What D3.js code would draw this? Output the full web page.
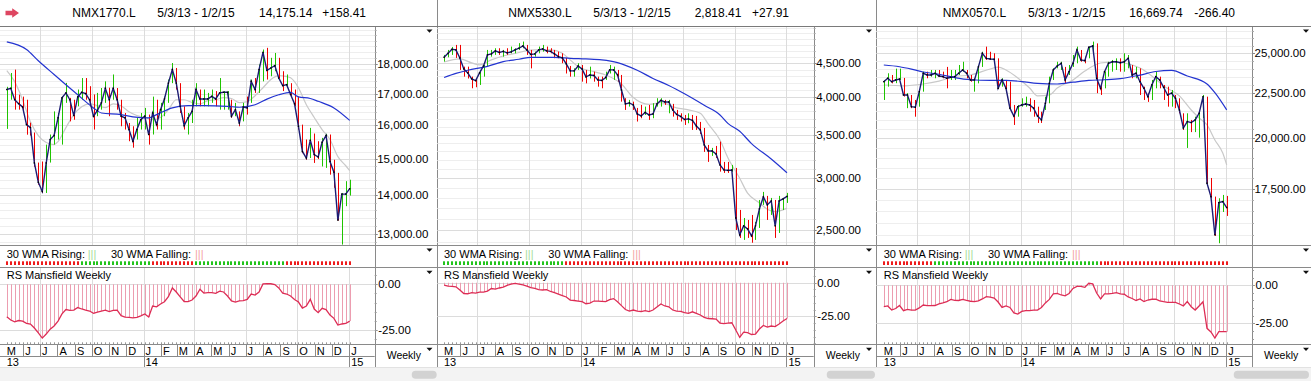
<!DOCTYPE html>
<html><head><meta charset="utf-8">
<script src="https://cdn.jsdelivr.net/npm/d3@7"></script>
<style>
html,body{margin:0;padding:0;background:#fff;overflow:hidden}
svg{display:block}
</style></head><body>
<svg id="c" width="1311" height="381"></svg>
<script>
// ---------- DATA ----------
const WEEK_COUNT = 88; // weekly bars 3 May 2013 .. 2 Jan 2015
const symbols = ["NMX1770.L", "NMX5330.L", "NMX0570.L"];
const dateRange = "5/3/13 - 1/2/15";
const lastValues = ["14,175.14", "2,818.41", "16,669.74"];
const changes = ["+158.41", "+27.91", "-266.40"];
const p1Ticks = [13000, 14000, 15000, 16000, 17000, 18000];
const p2Ticks = [2500, 3000, 3500, 4000, 4500];
const p3Ticks = [17500, 20000, 22500, 25000];
const rsTicks = [0, -25];

const p1Close = [17130,17170,16800,16675,16570,16020,15930,14890,14350,14100,
14890,15570,15690,16230,16860,17020,16800,16300,16890,17040,
17000,16800,16280,16460,16700,17170,16800,17170,16800,16280,
16230,15870,15520,15870,16170,16280,15720,16380,16020,16485,
16825,17340,17795,17340,16590,15990,16230,16430,17130,16825,
16825,16825,16910,16825,17020,17040,17040,16280,16485,16070,
16570,16540,17400,17130,17795,18390,17770,17850,17930,17510,
17260,17290,16970,16670,15970,15220,15030,15550,15130,15060,
15490,15690,14930,14630,13350,14030,14030,14175];
const p1High = [17220,17680,17795,16965,16900,16800,16080,15780,14900,14930,
15420,15720,16430,16380,16910,17350,16860,16800,17130,17510,
17510,17240,16970,17020,17180,17400,17190,17630,17180,16800,
16380,16070,15970,16230,16380,16540,16330,16900,16800,16700,
16900,17460,18020,17850,17340,16590,16380,16800,17340,17130,
17130,17020,17130,17080,17510,17080,17080,16800,16700,16430,
16700,16900,17460,17510,17970,18490,18550,18200,18370,18200,
17740,17630,17340,17130,16900,16020,15570,15920,15750,15520,
15620,15740,15720,14980,14610,14060,14380,14420];
const p1Low = [15890,16800,16485,16485,16420,15715,15690,14780,14285,14060,
14060,14900,15420,15570,15420,16700,16120,16170,16590,16800,
16800,16590,15870,16280,16485,16700,16280,16800,16485,15970,
15870,15520,15330,15570,15870,15870,15420,15720,15870,15870,
16280,16700,17340,17130,16380,15870,15720,16070,16590,16590,
16590,16590,16700,16590,16485,16485,16485,16230,16280,15970,
16120,16330,16700,17020,17020,17400,17460,17570,17740,17510,
17080,17180,16910,16590,15870,15170,14980,15030,14890,15000,
14790,14750,14560,14200,13340,12740,13710,13990];
const p1Ma10 = [[0,17760],[2,17390],[4,16800],[6,16110],[8,15690],[10,15480],[12,15420],[13,15510],[15,15930],[17,16330],[19,16580],[21,16670],[23,16610],[25,16550],[27,16670],[29,16610],[31,16420],[33,16300],[35,16240],[37,16170],[39,16240],[41,16485],[43,16800],[45,16800],[47,16710],[49,16670],[51,16770],[53,16800],[55,16870],[57,16840],[59,16710],[61,16740],[63,16930],[65,17190],[67,17460],[69,17590],[71,17560],[72,17520],[74,17190],[76,16640],[78,16240],[80,15870],[82,15570],[84,15070],[86,14810],[87,14670]];
const p1Ma30 = [[0,18760],[5,18490],[8,18100],[12,17630],[15,17290],[18,16960],[22,16540],[24,16380],[29,16330],[32,16260],[36,16230],[38,16330],[42,16540],[46,16610],[50,16610],[56,16590],[59,16560],[63,16640],[66,16820],[69,16960],[72,17040],[74,16890],[77,16840],[79,16750],[83,16540],[87,16150]];
const p1Rs = [-17.7,-19.5,-20.5,-19.8,-20.1,-21.3,-21.7,-23.9,-26.6,-29.4,
-27.2,-24.5,-22.8,-20.1,-16.2,-13.8,-14.3,-14.1,-12.7,-13.5,
-14.1,-14.6,-15.9,-15.2,-14.6,-14.1,-14.9,-14.3,-14.1,-17.1,
-17.9,-18.1,-18.4,-18.1,-17.3,-16.2,-17.9,-11.9,-12.3,-10.8,
-9.5,-6.8,-2.0,-4.2,-6.9,-9.4,-9.5,-8.6,-6.4,-2.7,
-4.8,-4.6,-4.5,-4.9,-3.7,-4.2,-6.4,-9.1,-9.7,-9.1,
-8.9,-8.3,-5.3,-5.9,-4.2,0.2,0.4,0.3,-0.1,-2.0,
-4.8,-5.3,-6.4,-8.3,-9.7,-13.0,-11.9,-8.2,-13.5,-15.5,
-13.1,-13.8,-16.8,-18.6,-22.3,-21.7,-21.4,-20.1];
const p1Trend = ["RRRRRRRRRR","RRRRRRRRRG","GGGGGGGGGG","GGGGGGGRRR","RRRRRRRRGG",
"GGGGGGGGGG","GGGGGGGGGG","GRRRRRRRRR","RRRRRRRR"].join("");

const p2Close = [4595,4660,4727,4716,4585,4410,4349,4258,4232,4349,
4457,4634,4650,4700,4675,4692,4667,4683,4716,4744,
4782,4716,4642,4650,4716,4733,4700,4692,4650,4605,
4585,4489,4380,4380,4457,4410,4288,4318,4310,4243,
4235,4280,4395,4395,4318,4095,3899,3913,3885,3763,
3737,3783,3750,3763,3899,3947,3926,3926,3817,3757,
3730,3691,3698,3678,3607,3557,3374,3303,3303,3268,
3144,3089,3084,3089,2608,2457,2536,2509,2448,2536,
2693,2809,2731,2769,2536,2769,2789,2814];
const p2High = [4634,4716,4766,4800,4800,4446,4446,4292,4264,4395,
4473,4716,4716,4744,4744,4716,4744,4772,4744,4830,
4857,4800,4716,4688,4772,4800,4772,4744,4716,4688,
4660,4585,4457,4420,4500,4473,4395,4446,4368,4292,
4292,4368,4473,4446,4395,4318,3978,3954,3930,3844,
3885,3862,3885,3908,3978,3978,3954,3954,3899,3817,
3772,3750,3772,3750,3737,3659,3582,3374,3339,3362,
3414,3178,3178,3144,3111,2683,2608,2590,2636,2572,
2779,2859,2819,2799,2779,2819,2799,2849];
const p2Low = [4526,4595,4634,4585,4395,4292,4264,4120,4135,4168,
4292,4446,4605,4634,4634,4605,4634,4660,4660,4716,
4744,4634,4419,4605,4660,4688,4660,4660,4580,4580,
4500,4340,4292,4292,4395,4217,4192,4264,4217,4143,
4120,4243,4340,4243,4217,3930,3817,3862,3817,3664,
3707,3750,3685,3707,3862,3862,3885,3772,3728,3685,
3664,3620,3642,3557,3557,3507,3292,3178,3246,3223,
3071,3057,3057,3068,2500,2431,2414,2431,2390,2414,
2518,2731,2590,2636,2431,2474,2683,2750];
const p2Ma10 = [[0,4520],[4,4570],[7,4505],[9,4473],[12,4553],[15,4616],[18,4660],[23,4716],[27,4716],[30,4660],[32,4553],[34,4446],[38,4368],[41,4318],[45,4183],[48,3987],[52,3893],[55,3916],[59,3845],[62,3817],[65,3772],[67,3633],[70,3434],[72,3224],[75,3000],[77,2846],[80,2750],[82,2690],[84,2667],[86,2683],[87,2700]];
const p2Ma30 = [[0,4280],[3,4342],[6,4390],[11,4450],[15,4525],[19,4563],[22,4595],[28,4595],[32,4579],[36,4568],[40,4553],[44,4510],[49,4390],[53,4265],[57,4160],[61,4040],[66,3880],[70,3750],[72,3640],[75,3540],[78,3390],[83,3210],[87,3058]];
const p2Rs = [-1.7,-2.5,-2.7,-3.0,-5.4,-8.0,-8.2,-7.4,-7.7,-6.9,
-6.9,-6.2,-4.3,-4.7,-3.9,-3.2,-1.9,-1.0,-0.4,-1.0,
-1.5,-2.5,-3.7,-4.2,-5.1,-5.4,-5.1,-6.5,-7.3,-8.4,
-9.5,-10.6,-12.9,-13.2,-13.6,-14.1,-15.6,-15.1,-13.6,-13.6,
-13.8,-14.0,-12.5,-11.8,-14.1,-17.0,-19.9,-21.1,-20.3,-21.1,
-21.4,-20.7,-21.4,-20.3,-18.1,-15.8,-17.3,-17.9,-20.3,-21.1,
-21.3,-22.3,-22.8,-21.6,-22.8,-24.0,-25.7,-26.6,-26.8,-27.0,
-30.0,-30.4,-30.0,-29.8,-35.2,-40.6,-36.7,-37.1,-38.5,-38.2,
-34.4,-31.8,-33.0,-32.2,-32.6,-30.7,-28.5,-26.6];
const p2Trend = ["GGGGGGGGGG","GGGGGGGGGG","GGGGGGGGGG","GRRRRRRRRR","RRRRRRRRRR",
"RRRRRRRRRR","RRRRRRRRRR","RRRRRRRRRR","RRRRRRRR"].join("");

const p3Close = [23200,23410,23200,23305,23366,22405,22405,21725,21690,22600,
23720,23614,23614,23720,23550,23510,23410,23470,23510,23720,
23926,23720,23305,23305,24120,25000,24670,24630,24610,22800,
23305,22800,21640,21200,21725,21823,21880,21823,21640,21200,
20980,21920,23100,23926,24180,24350,23305,23820,24350,25218,
24564,24520,25400,25485,23410,22800,23820,24350,24450,24450,
24390,24450,24670,23614,23720,23200,22800,22305,23002,23510,
23305,22860,22405,22510,22210,21537,20540,20890,20835,20980,
21350,22305,17765,17150,15508,16880,16925,16660];
const p3High = [23305,23720,23614,24010,24010,23430,22510,22405,22111,22700,
23820,23820,23926,23926,23926,23820,24120,23926,23926,24242,
24450,23926,23614,23410,24242,25100,25440,25100,25000,24670,
23410,23305,23200,21823,21823,22210,22305,22210,22111,21725,
21440,22305,23510,24030,24450,24450,24120,24242,24888,25440,
25218,24780,25440,25780,25660,23002,23820,24450,24564,24670,
24670,25000,24888,24242,24120,24030,22900,22510,23305,23820,
23510,23002,22900,22700,22405,22210,21350,21350,20980,21160,
21440,22405,22305,18010,17150,17075,17225,17180];
const p3Low = [22111,22900,23100,23110,23305,22310,21640,21640,21160,21725,
22600,23410,23510,23410,23490,23410,22800,23305,23305,23614,
23820,23410,23200,22600,23100,24120,24564,24564,24350,22800,
22900,22600,21640,20705,21160,21725,21725,21440,21160,20815,
20815,21537,21920,23305,24030,23926,23100,23614,24120,24350,
24450,24350,24670,25100,22510,22405,22800,23510,23820,23926,
23820,23820,24030,23410,23410,22405,22111,22000,22111,22800,
22800,22111,21725,21725,21640,21350,20435,19490,20320,20320,
20025,21090,17685,17075,15466,15170,16470,16300];
const p3Ma10 = [[0,23000],[5,22950],[10,23060],[14,23240],[18,23520],[22,23614],[27,23990],[29,24110],[31,23926],[34,23430],[37,22820],[39,22350],[42,22405],[44,22820],[48,23305],[51,23860],[55,24370],[58,24430],[61,24370],[65,24050],[68,23550],[71,22940],[75,22350],[78,21537],[80,21090],[82,20705],[84,19905],[86,19235],[87,18640]];
const p3Ma30 = [[0,24240],[4,24130],[7,23980],[10,23800],[14,23660],[18,23450],[22,23320],[27,23280],[31,23280],[35,23210],[39,23100],[44,23060],[48,23170],[52,23280],[56,23320],[60,23390],[65,23610],[69,23830],[73,23900],[77,23550],[82,23060],[84,22540],[87,21540]];
const p3Rs = [-14.1,-13.6,-16.3,-15.3,-13.3,-16.7,-15.9,-16.4,-16.3,-14.9,
-13.0,-13.4,-13.4,-13.3,-12.3,-11.6,-10.8,-9.3,-9.9,-10.0,
-9.3,-10.0,-10.5,-10.8,-10.3,-9.0,-7.5,-7.8,-8.4,-11.0,
-14.6,-13.6,-14.6,-18.2,-18.9,-17.2,-16.7,-16.7,-16.4,-16.3,
-14.6,-11.6,-9.3,-5.7,-5.4,-6.4,-7.0,-5.4,-2.1,-0.8,
-0.8,-1.4,1.3,0.9,-5.1,-9.0,-5.7,-5.7,-5.4,-4.9,
-5.7,-5.9,-7.7,-8.7,-10.0,-9.0,-10.7,-9.7,-9.2,-9.2,
-10.3,-10.8,-11.2,-11.2,-11.2,-12.3,-13.6,-10.7,-14.1,-16.3,
-13.6,-10.8,-28.3,-30.7,-34.7,-30.5,-30.5,-30.5];
const p3Trend = ["RRRRRRRRRR","RRRGGGGGGG","GGGGGGGGGG","GGGGGGGGGG","GGGGGGGGGG",
"GGGGGRRRRR","RRRRRRRRRR","RRRRRRRRRR","RRRRRRRR"].join("");

// ---------- LAYOUT (positions / styles) ----------
const FONT = '"Liberation Sans", Arial, Helvetica, sans-serif';
const Y = {headLine: 26, priceTop: 26, priceBot: 245, stripBot: 267.3, rsBot: 344.3, monthBot: 356, yearBot: 367};
const layout = [
  {left: 0, ox: 0, axisX: 374.7, border: 437.3, head: [72.3, 157.3, 259, 322.3], pill: [411.7, 436.7],
   yDomain: [12730, 19340], rsDomain: [-32.8, 9.3], minor: 200, tri: 429.5},
  {left: 437.3, ox: 437.3, axisX: 813.7, border: 876.3, head: [508.3, 593.3, 694.7, 752], pill: [826.7, 875],
   yDomain: [2371, 5131], rsDomain: [-45.8, 11.5], minor: 100, tri: 869},
  {left: 876.3, ox: 877, axisX: 1252, border: 1311, head: [942.7, 1028, 1129.3, 1194.3], pill: [1233.7, 1309],
   yDomain: [15100, 26860], rsDomain: [-38.8, 11.8], minor: 500, tri: 1306}
];
const series = [
  {close: p1Close, high: p1High, low: p1Low, ma10: p1Ma10, ma30: p1Ma30, rs: p1Rs, trend: p1Trend, ticks: p1Ticks},
  {close: p2Close, high: p2High, low: p2Low, ma10: p2Ma10, ma30: p2Ma30, rs: p2Rs, trend: p2Trend, ticks: p2Ticks},
  {close: p3Close, high: p3High, low: p3Low, ma10: p3Ma10, ma30: p3Ma30, rs: p3Rs, trend: p3Trend, ticks: p3Ticks}
];
const C = {up: "#1fc400", down: "#f00000", close: "#1c1c74", ma10: "#c9c9c9", ma30: "#2334d0",
  grid: "#dcdcdc", minor: "#eeeeee", frame: "#8a8a8a", rsLine: "#dd2d55", rsSpike: "#ec9db0",
  dotUp: "#22c41c", dotDown: "#ee1c1c"};

const svg = d3.select("#c").style("font-family", FONT);
const weeks = d3.range(WEEK_COUNT).map(i => new Date(2013, 4, 3 + 7 * i));
const cr = v => Math.round(v) + 0.5;
const fmtPrice = d3.format(",.2f");
const fmtRs = v => d3.format(".2f")(v).replace("\u2212", "-");
const monthName = d3.timeFormat("%b");

// bottom scroll area
svg.append("rect").attr("x", 0).attr("y", Y.yearBot).attr("width", 1311).attr("height", 381 - Y.yearBot).attr("fill", "#f3f3f3");
svg.append("line").attr("x1", 0).attr("x2", 1311).attr("y1", Y.yearBot + 0.5).attr("y2", Y.yearBot + 0.5).attr("stroke", "#e2e2e2");

function tri(g, cx, cy) {
  g.append("path").attr("d", `M${cx - 3},${cy - 1.5}L${cx + 3},${cy - 1.5}L${cx},${cy + 1.8}Z`).attr("fill", "#111");
}

layout.forEach((L, k) => {
  const S = series[k];
  const g = svg.append("g");
  const x = d3.scaleTime().domain([weeks[0], weeks[WEEK_COUNT - 1]]).range([L.ox + 6.8, L.ox + 349.7]);
  const y = d3.scaleLog().domain(L.yDomain).range([Y.priceBot, Y.priceTop]);
  const r = d3.scaleLinear().domain(L.rsDomain).range([Y.rsBot, Y.stripBot]);
  const xi = i => x(weeks[i]);
  const plotL = L.left, plotR = L.axisX;

  // ----- price grid -----
  const minorVals = d3.range(Math.ceil(L.yDomain[0] / L.minor) * L.minor, L.yDomain[1], L.minor)
    .filter(v => !S.ticks.includes(v));
  g.append("g").selectAll("line").data(minorVals).join("line")
    .attr("x1", plotL).attr("x2", plotR).attr("y1", d => cr(y(d))).attr("y2", d => cr(y(d)))
    .attr("stroke", C.minor);
  g.append("g").selectAll("line").data(S.ticks).join("line")
    .attr("x1", plotL).attr("x2", plotR).attr("y1", d => cr(y(d))).attr("y2", d => cr(y(d)))
    .attr("stroke", C.grid);
  const quarters = d3.timeMonth.every(3).range(new Date(2013, 4, 1), new Date(2015, 1, 1))
    .filter(d => d.getMonth() % 3 === 0 && x(d) > plotL + 2);
  g.append("g").selectAll("line").data(quarters).join("line")
    .attr("x1", d => cr(x(d))).attr("x2", d => cr(x(d))).attr("y1", Y.priceTop).attr("y2", Y.priceBot)
    .attr("stroke", C.grid);

  // ----- RS grid -----
  const rsMinor = d3.range(Math.ceil(L.rsDomain[0] / 5) * 5, L.rsDomain[1], 5);
  g.append("g").selectAll("line").data(rsTicks).join("line")
    .attr("x1", plotL).attr("x2", plotR).attr("y1", d => cr(r(d))).attr("y2", d => cr(r(d)))
    .attr("stroke", C.grid);
  g.append("g").selectAll("line").data(quarters).join("line")
    .attr("x1", d => cr(x(d))).attr("x2", d => cr(x(d))).attr("y1", Y.stripBot).attr("y2", Y.rsBot)
    .attr("stroke", C.grid);

  // ----- moving averages -----
  const maLine = d3.line().x(d => xi(d[0])).y(d => y(d[1])).curve(d3.curveMonotoneX);
  g.append("path").attr("d", maLine(S.ma10)).attr("fill", "none").attr("stroke", C.ma10).attr("stroke-width", 1.2);

  // ----- HL bars -----
  g.append("g").selectAll("line").data(d3.range(WEEK_COUNT)).join("line")
    .attr("x1", i => cr(xi(i))).attr("x2", i => cr(xi(i)))
    .attr("y1", i => y(S.high[i])).attr("y2", i => y(S.low[i]))
    .attr("stroke", i => (i === 0 || S.close[i] >= S.close[i - 1]) ? C.up : C.down)
    .attr("stroke-width", 1);

  g.append("path").attr("d", maLine(S.ma30)).attr("fill", "none").attr("stroke", C.ma30).attr("stroke-width", 1.2);

  // ----- close line -----
  const cLine = d3.line().x((d, i) => xi(i)).y(d => y(d));
  g.append("path").attr("d", cLine(S.close)).attr("fill", "none").attr("stroke", C.close).attr("stroke-width", 1.4);
  g.append("g").selectAll("rect").data(S.close).join("rect")
    .attr("x", (d, i) => xi(i) - 0.7).attr("y", d => y(d) - 0.7).attr("width", 1.4).attr("height", 1.4)
    .attr("fill", "#000");

  // ----- trend strip -----
  g.append("g").selectAll("rect").data(S.trend.split("")).join("rect")
    .attr("x", (d, i) => Math.round(xi(i)) - 1).attr("y", 261.3).attr("width", 2).attr("height", 3.7)
    .attr("fill", d => d === "G" ? C.dotUp : C.dotDown);
  const sx = L.ox + 6.7;
  g.append("text").attr("x", sx).attr("y", 258.3).attr("font-size", 11).text("30 WMA Rising:");
  g.append("text").attr("x", sx + 81).attr("y", 258.3).attr("font-size", 11).attr("fill", "#a6dd9a").text("|||");
  g.append("text").attr("x", sx + 104.3).attr("y", 258.3).attr("font-size", 11).text("30 WMA Falling:");
  g.append("text").attr("x", sx + 188.3).attr("y", 258.3).attr("font-size", 11).attr("fill", "#f4a3a3").text("|||");

  // ----- RS -----
  g.append("g").selectAll("line").data(S.rs).join("line")
    .attr("x1", (d, i) => cr(xi(i))).attr("x2", (d, i) => cr(xi(i)))
    .attr("y1", r(0)).attr("y2", d => r(d)).attr("stroke", C.rsSpike).attr("stroke-width", 1);
  g.append("path").attr("d", d3.line().x((d, i) => xi(i)).y(d => r(d))(S.rs))
    .attr("fill", "none").attr("stroke", C.rsLine).attr("stroke-width", 1.3);
  g.append("text").attr("x", L.ox + 6.7).attr("y", 279).attr("font-size", 11).text("RS Mansfield Weekly");
  // weekly ticks along RS bottom
  g.append("g").selectAll("line").data(weeks).join("line")
    .attr("x1", d => cr(x(d))).attr("x2", d => cr(x(d))).attr("y1", Y.rsBot - 2).attr("y2", Y.rsBot)
    .attr("stroke", "#999");

  // ----- month / year axis -----
  const months = d3.timeMonth.range(new Date(2013, 4, 1), new Date(2015, 1, 1));
  months.forEach((m, mi) => {
    const mx = x(m);
    const first = mi === 0;
    if (!first) {
      g.append("line").attr("x1", cr(mx)).attr("x2", cr(mx)).attr("y1", Y.rsBot)
        .attr("y2", m.getMonth() === 0 ? Y.yearBot : Y.monthBot).attr("stroke", C.frame);
    }
    const lx = first ? L.ox + 6.7 : mx + 2;
    g.append("text").attr("x", lx).attr("y", 354.5).attr("font-size", 11).text(monthName(m)[0]);
    if (first || m.getMonth() === 0) {
      g.append("text").attr("x", lx).attr("y", 366).attr("font-size", 11)
        .text(String(m.getFullYear()).slice(2));
    }
  });

  // ----- frames -----
  const hl = (yy, x1, x2) => g.append("line").attr("x1", x1).attr("x2", x2).attr("y1", cr(yy)).attr("y2", cr(yy)).attr("stroke", C.frame);
  hl(Y.priceBot, plotL, L.border);
  hl(Y.stripBot, plotL, L.border);
  hl(Y.rsBot, plotL, L.border);
  hl(Y.monthBot, plotL, L.axisX);
  g.append("line").attr("x1", cr(L.axisX)).attr("x2", cr(L.axisX)).attr("y1", Y.headLine).attr("y2", Y.yearBot).attr("stroke", C.frame);
  if (k < 2) g.append("line").attr("x1", cr(L.border)).attr("x2", cr(L.border)).attr("y1", 0).attr("y2", Y.yearBot).attr("stroke", C.frame);

  // ----- price axis labels -----
  const ax = g.append("g");
  ax.selectAll("text").data(S.ticks).join("text")
    .attr("x", L.axisX + 2.5).attr("y", d => y(d) + 4).attr("font-size", 11.5).text(d => fmtPrice(d));
  ax.selectAll("line.t").data(S.ticks).join("line").attr("class", "t")
    .attr("x1", L.axisX).attr("x2", L.axisX + 3).attr("y1", d => cr(y(d))).attr("y2", d => cr(y(d))).attr("stroke", C.frame);
  ax.selectAll("line.m").data(minorVals).join("line").attr("class", "m")
    .attr("x1", L.axisX).attr("x2", L.axisX + 2).attr("y1", d => cr(y(d))).attr("y2", d => cr(y(d))).attr("stroke", "#aaa");
  // RS axis
  const rx = g.append("g");
  rx.selectAll("text").data(rsTicks).join("text")
    .attr("x", L.axisX + 3.5).attr("y", d => r(d) + 4).attr("font-size", 11.5).text(d => fmtRs(d));
  rx.selectAll("line").data(rsMinor).join("line")
    .attr("x1", L.axisX).attr("x2", d => L.axisX + (rsTicks.includes(d) ? 3 : 2))
    .attr("y1", d => cr(r(d))).attr("y2", d => cr(r(d))).attr("stroke", "#999");

  // ----- header -----
  const hy = 17.3;
  [symbols[k], dateRange, lastValues[k], changes[k]].forEach((t, j) => {
    g.append("text").attr("x", L.head[j]).attr("y", hy).attr("font-size", 12).text(t);
  });
  tri(g, L.tri, 31);
  tri(g, L.tri, 250);
  tri(g, L.tri, 272.3);
  tri(g, L.tri, 349.3);
  g.append("text").attr("x", L.axisX + 12).attr("y", 359).attr("font-size", 10.5).text("Weekly");

  // scrollbar pill
  g.append("rect").attr("x", L.pill[0]).attr("y", 370.7).attr("width", L.pill[1] - L.pill[0]).attr("height", 8)
    .attr("rx", 4).attr("fill", "#d2d2d2");
});

// header baseline + arrow
svg.append("line").attr("x1", 0).attr("x2", 1311).attr("y1", 26.5).attr("y2", 26.5).attr("stroke", "#7a7a7a");
svg.append("path").attr("d", "M5.5,10.8L12.2,10.8L12.2,8.3L19,13L12.2,17.7L12.2,15.2L5.5,15.2Z").attr("fill", "#de4661");
</script>
</body></html>
